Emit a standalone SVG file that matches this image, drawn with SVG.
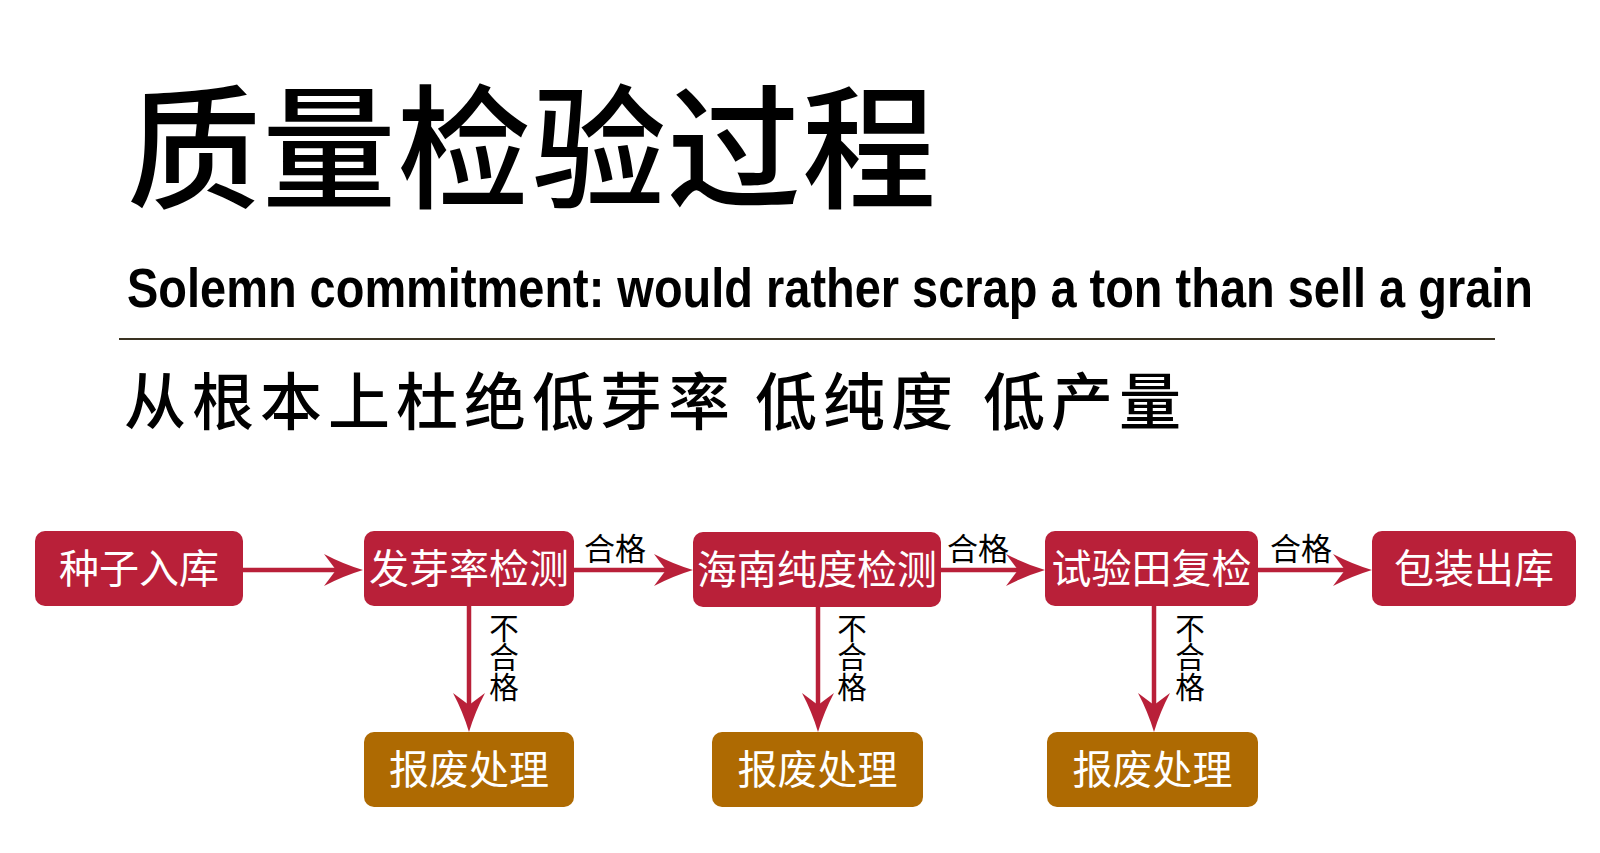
<svg xmlns="http://www.w3.org/2000/svg" width="1600" height="853" viewBox="0 0 1600 853">
<style>
  .cjk { font-family: "Noto Sans CJK SC", "Noto Sans", sans-serif; }
  .title { font-size: 134px; font-weight: 500; fill: #000; letter-spacing: 1px; }
  .sub { font-size: 62px; font-weight: 500; fill: #000; letter-spacing: 6px; }
  .en { font-family: "Liberation Sans", Arial, sans-serif; font-size: 56px; font-weight: 700; fill: #000; }
  .red { fill: #B92039; }
  .brown { fill: #AE6A02; }
  .lbl { font-size: 40px; fill: #fff; text-anchor: middle; }
  .edge { font-size: 31px; fill: #000; text-anchor: middle; }
  .vedge { font-size: 29.5px; fill: #000; writing-mode: vertical-rl; }
  .conn { stroke: #B92039; stroke-width: 4.5; fill: none; marker-end: url(#ah); }
</style>
<defs>
  <marker id="ah" markerUnits="userSpaceOnUse" viewBox="-40 -17 41 34" markerWidth="41" markerHeight="34" refX="-24" refY="0" orient="auto">
    <path d="M0,0 Q-20,-6 -39,-16 L-27,0 L-39,16 Q-20,6 0,0 Z" fill="#B92039"/>
  </marker>
</defs>
<rect width="1600" height="853" fill="#fff"/>

<g id="header">
  <text class="cjk title" x="127" y="198">质量检验过程</text>
  <text class="en" x="127" y="307" textLength="1406" lengthAdjust="spacingAndGlyphs">Solemn commitment: would rather scrap a ton than sell a grain</text>
  <line x1="119" y1="339" x2="1495" y2="339" stroke="#3a3322" stroke-width="2"/>
  <text class="cjk sub" y="425"><tspan x="124">从根本上杜绝低芽率</tspan><tspan x="755">低纯度</tspan><tspan x="983">低产量</tspan></text>
</g>

<g id="connectors">
  <line class="conn" x1="243" y1="570" x2="339" y2="570"/>
  <line class="conn" x1="574" y1="570" x2="669" y2="570"/>
  <line class="conn" x1="941" y1="570" x2="1021" y2="570"/>
  <line class="conn" x1="1258" y1="570" x2="1348" y2="570"/>
  <line class="conn" x1="469" y1="606" x2="469" y2="708"/>
  <line class="conn" x1="818" y1="607" x2="818" y2="708"/>
  <line class="conn" x1="1154" y1="606" x2="1154" y2="708"/>
  <text class="cjk edge" x="615" y="560">合格</text>
  <text class="cjk edge" x="978" y="560">合格</text>
  <text class="cjk edge" x="1301" y="560">合格</text>
  <text class="cjk vedge" x="504" y="613">不合格</text>
  <text class="cjk vedge" x="852" y="613">不合格</text>
  <text class="cjk vedge" x="1190" y="613">不合格</text>
</g>

<g id="n1"><rect class="red" x="35" y="531" width="208" height="75" rx="10"/><text class="cjk lbl" x="139" y="583">种子入库</text></g>
<g id="n2"><rect class="red" x="364" y="531" width="210" height="75" rx="10"/><text class="cjk lbl" x="469" y="583">发芽率检测</text></g>
<g id="n3"><rect class="red" x="693" y="532" width="248" height="75" rx="10"/><text class="cjk lbl" x="817" y="584">海南纯度检测</text></g>
<g id="n4"><rect class="red" x="1045" y="531" width="213" height="75" rx="10"/><text class="cjk lbl" x="1151.5" y="583">试验田复检</text></g>
<g id="n5"><rect class="red" x="1372" y="531" width="204" height="75" rx="10"/><text class="cjk lbl" x="1474" y="583">包装出库</text></g>
<g id="s1"><rect class="brown" x="364" y="732" width="210" height="75" rx="10"/><text class="cjk lbl" x="469" y="784">报废处理</text></g>
<g id="s2"><rect class="brown" x="712" y="732" width="211" height="75" rx="10"/><text class="cjk lbl" x="817.5" y="784">报废处理</text></g>
<g id="s3"><rect class="brown" x="1047" y="732" width="211" height="75" rx="10"/><text class="cjk lbl" x="1152.5" y="784">报废处理</text></g>
</svg>
